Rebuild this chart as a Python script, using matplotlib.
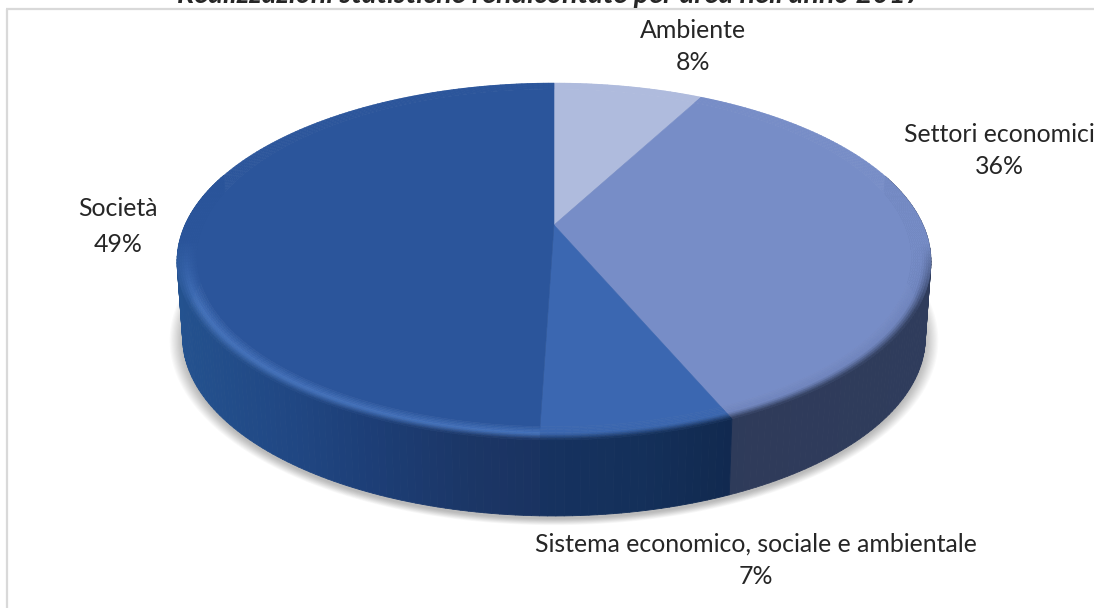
import matplotlib.pyplot as plt
import matplotlib.colors as mcolors
from matplotlib.collections import PolyCollection
import numpy as np

plt.rcParams['font.family'] = ['Lato', 'DejaVu Sans']

title = "Realizzazioni statistiche rendicontate per area nell'anno 2017"
areas = ["Ambiente", "Settori economici", "Sistema economico, sociale e ambientale", "Società"]
shares = [7.8, 35.8, 6.91, 49.49]  # printed as 8, 36, 7, 49

face_colors = ["#afbbdd", "#778dc7", "#3b67b1", "#2b559b"]
rim_colors = ["#afbbdd", "#6f84bd", "#3a66ae", "#4472bb"]
# side colour stops, by pixel x
side_stops = [
    [(0, "#8a96b8"), (1094, "#8a96b8")],
    [(550, "#2e3a58"), (940, "#2f3c5c")],
    [(540, "#163260"), (640, "#14305a"), (735, "#11294f")],
    [(175, "#24528f"), (300, "#204682"), (360, "#1d3f78"), (470, "#1b3666"), (550, "#1a3260")],
]
label_pos = [(693, 31, 63), (999, 135, 167), (756, 544, 576), (118, 209, 245)]

# pie geometry in pixels, the far side is foreshortened
cx, cy = 554, 225
k = 0.2045
B, A = 369, 171
depth = 76


def project(ang, r=1.0):
    u = r * np.sin(ang)
    v = r * np.cos(ang)
    w = 1 + k * v
    return cx + B * u / w, cy - A * v / w


def side_color(stops, x):
    xs = [s[0] for s in stops]
    rgb = np.array([mcolors.to_rgb(s[1]) for s in stops])
    return np.array([np.interp(x, xs, rgb[:, i]) for i in range(3)])


fig = plt.figure(figsize=(10.94, 6.08), dpi=100)
ax = fig.add_axes([0, 0, 1, 1])
ax.set_xlim(0, 1094)
ax.set_ylim(608, 0)
ax.axis('off')

# frame, only top and left show in the picture
ax.plot([7, 7], [608, 9], color="#d9d9d9", lw=1.6, solid_capstyle='butt')
ax.plot([6, 1094], [9, 9], color="#d9d9d9", lw=1.6, solid_capstyle='butt')

edges = np.cumsum([0] + shares) / sum(shares) * 2 * np.pi

# soft shadow under the bottom edge
t = np.linspace(0, 2 * np.pi, 361)
sx, sy = project(t)
for s in np.linspace(1.035, 1.0, 12):
    px = cx + (sx - cx) * 0.985 * s
    py = cy + 36 + depth + (sy - cy - 36) * s + 3
    ax.fill(px, py, color="black", alpha=0.022, lw=0)

# side wall
quads, cols = [], []
for i in range(len(shares)):
    n = max(int(np.degrees(edges[i + 1] - edges[i])), 2)
    angs = np.linspace(edges[i], edges[i + 1], n + 1)
    for a0, a1 in zip(angs[:-1], angs[1:]):
        if np.cos(a0) > 0.3 and np.cos(a1) > 0.3:
            continue
        x0, y0 = project(a0)
        x1, y1 = project(a1)
        bx0 = cx + (x0 - cx) * 0.985
        bx1 = cx + (x1 - cx) * 0.985
        quads.append([(x0, y0), (x1, y1), (bx1, y1 + depth), (bx0, y0 + depth)])
        cols.append(side_color(side_stops[i], (x0 + x1) / 2))
ax.add_collection(PolyCollection(quads, facecolors=cols, edgecolors=cols, linewidths=0.6))

# top face
radii = np.linspace(0.95, 1.0, 10)
for i in range(len(shares)):
    n = max(int(np.degrees(edges[i + 1] - edges[i])), 2)
    angs = np.linspace(edges[i], edges[i + 1], n + 1)
    x_o, y_o = project(angs, radii[0])
    ax.fill(np.r_[cx, x_o], np.r_[cy, y_o], color=face_colors[i], lw=0.4)
    base = np.array(mcolors.to_rgb(face_colors[i]))
    rim = np.array(mcolors.to_rgb(rim_colors[i]))
    quads, cols = [], []
    for a0, a1 in zip(angs[:-1], angs[1:]):
        # bevel only shows on the near half
        strength = np.clip((-0.1 - np.cos(a0)) / 0.35, 0, 1)
        x_mid = project((a0 + a1) / 2)[0]
        wall = side_color(side_stops[i], x_mid)
        for r0, r1 in zip(radii[:-1], radii[1:]):
            pos = (r1 - radii[0]) / (radii[-1] - radii[0])
            # lighter band first, then it melts into the wall colour
            c = base + (rim - base) * min(pos / 0.6, 1) * strength
            if pos > 0.6:
                c = c + (wall - c) * (pos - 0.6) / 0.4 * strength * 0.9
            xa, ya = project(a0, r0)
            xb, yb = project(a1, r0)
            xc, yc = project(a1, r1)
            xd, yd = project(a0, r1)
            quads.append([(xa, ya), (xb, yb), (xc, yc), (xd, yd)])
            cols.append(c)
    ax.add_collection(PolyCollection(quads, facecolors=cols, edgecolors=cols, linewidths=0.4))

# labels
for name, val, pos in zip(areas, shares, label_pos):
    ax.text(pos[0], pos[1], name, ha='center', va='center', fontsize=17.9, color="#262626")
    ax.text(pos[0], pos[2], f"{val:.0f}%", ha='center', va='center', fontsize=17.9, color="#262626")

ax.text(550, 3, title, ha='center', va='baseline', fontsize=20.6, fontweight='bold',
        fontstyle='italic', color="#262626", clip_on=True)

fig.savefig("out.png", dpi=100)
